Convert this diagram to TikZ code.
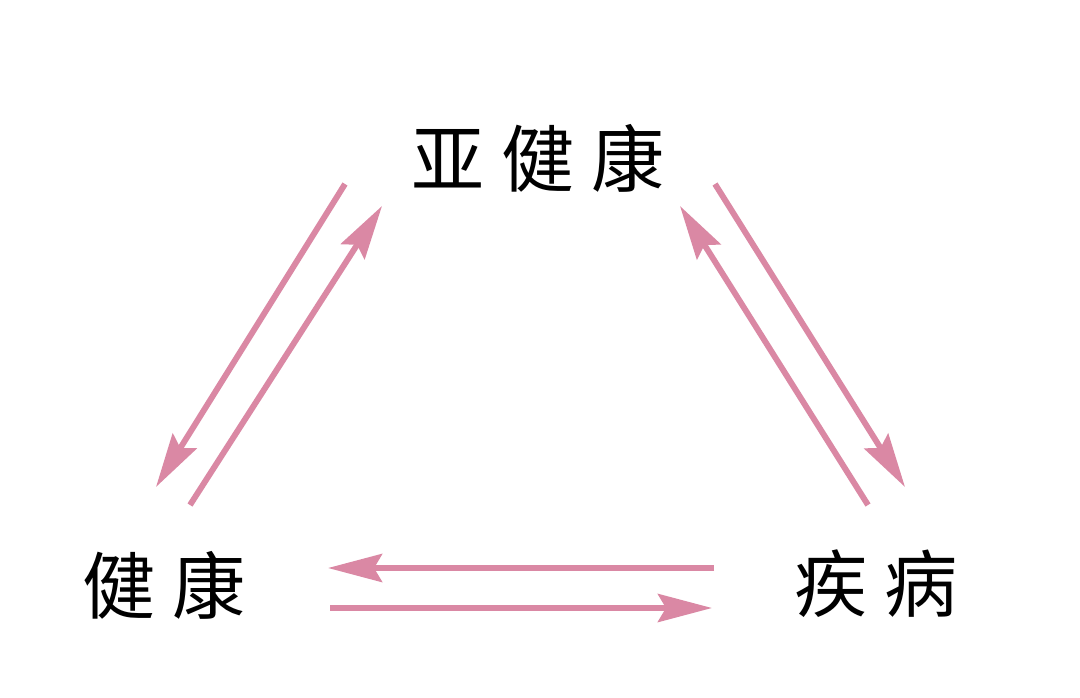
\documentclass[tikz,border=0pt]{standalone}
\usepackage{fontspec}
\newfontfamily\cjk{Noto Sans CJK SC}
\usetikzlibrary{arrows.meta}
\definecolor{arrowpink}{RGB}{218,136,164}

\begin{document}
\begin{tikzpicture}[x=0.025cm,y=-0.025cm,
    state/.style={inner sep=0pt,font=\cjk\fontsize{52pt}{52pt}\selectfont},
    flow/.style={arrowpink,line width=4.2pt,-{Stealth[length=1.35cm,width=0.7cm,inset=0.2cm]}}]
            \useasboundingbox[fill=white] (0,0) rectangle (1080,698);
            \node[state] (sub) at (538,158) {亚\hspace{0.42cm}健\hspace{0.42cm}康};
            \node[state] (health) at (164,585) {健\hspace{0.42cm}康};
            \node[state] (ill) at (876,584) {疾\hspace{0.42cm}病};
            \coordinate (subL1) at (345,184);
            \coordinate (subL2) at (382,206);
            \coordinate (healthU1) at (156,487);
            \coordinate (healthU2) at (190,505);
            \coordinate (subR1) at (715,184);
            \coordinate (subR2) at (680,206);
            \coordinate (illU1) at (905,487);
            \coordinate (illU2) at (868,505);
            \coordinate (healthR1) at (328,568);
            \coordinate (healthR2) at (330,608);
            \coordinate (illL1) at (714,568);
            \coordinate (illL2) at (712,608);
            \draw[flow] (subL1)--(healthU1);
            \draw[flow] (healthU2)--(subL2);
            \draw[flow] (subR1)--(illU1);
            \draw[flow] (illU2)--(subR2);
            \draw[flow] (illL1)--(healthR1);
            \draw[flow] (healthR2)--(illL2);
        \end{tikzpicture}
\end{document}
